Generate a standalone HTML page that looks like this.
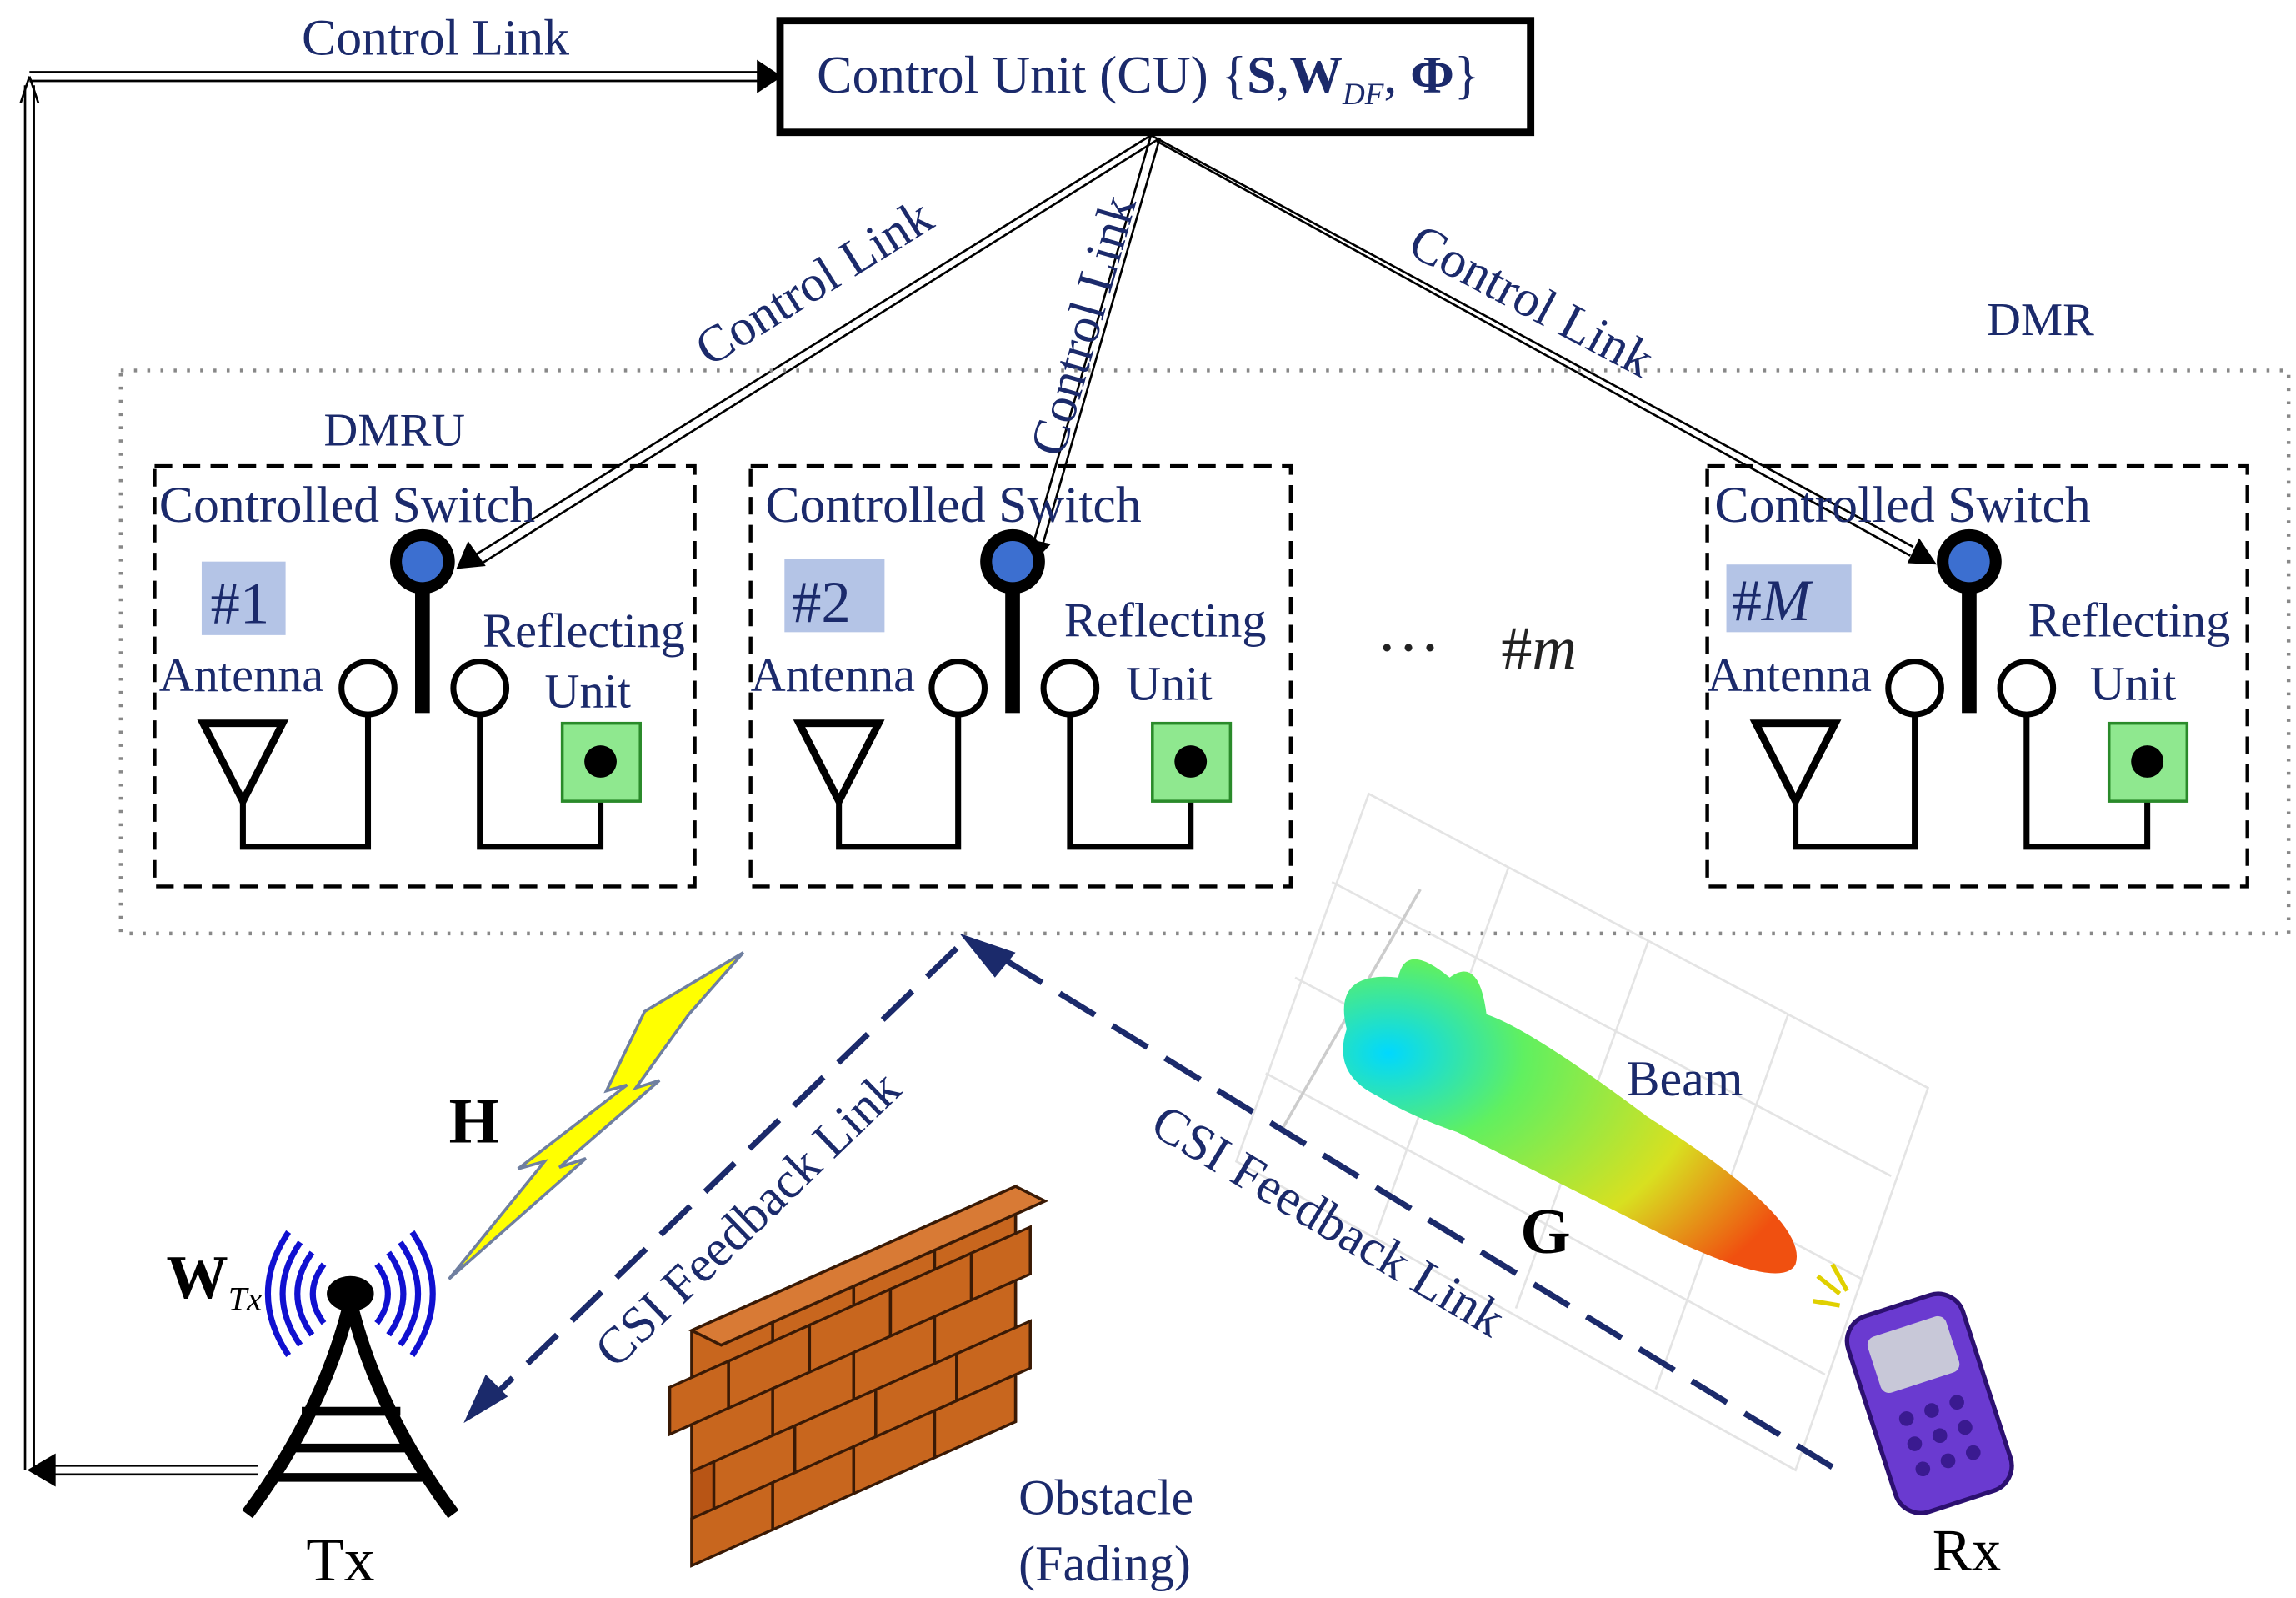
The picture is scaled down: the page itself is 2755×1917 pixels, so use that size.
<!DOCTYPE html>
<html><head><meta charset="utf-8"><style>
html,body{margin:0;padding:0;background:#fff;}
svg{display:block;}
text{font-family:"Liberation Serif",serif;fill:#1b2a6b;}
</style></head><body>
<svg width="2755" height="1917" viewBox="0 0 1560 1087" preserveAspectRatio="none" xmlns="http://www.w3.org/2000/svg">
<defs>
<radialGradient id="bg1" cx="0.1" cy="0.3" r="1">
<stop offset="0" stop-color="#00d8ff"/><stop offset="0.3" stop-color="#60f060"/><stop offset="0.7" stop-color="#d8e020"/><stop offset="1" stop-color="#f05010"/></radialGradient>
</defs>
<!-- control link left -->
<g stroke="#000" stroke-width="1.5" fill="none">
<path d="M17,1000 V58 M23,1000 V58"/>
<path d="M20,52 L14,70 M20,52 L26,70" />
<path d="M20,49 H515 M20,55 H515"/>
<path d="M515,42 L530,52 L515,62 z" fill="#000"/>
<path d="M35,997 H175 M35,1003 H175"/>
<path d="M20,1000 L37,990 L37,1010 z" fill="#000"/>
</g>
<text x="205" y="37" font-size="35">Control Link</text>
<!-- CU -->
<rect x="530" y="14" width="510" height="76" fill="#fff" stroke="#000" stroke-width="5"/>
<text x="555" y="63" font-size="36">Control Unit (CU) {<tspan font-weight="bold">S</tspan>,<tspan font-weight="bold">W</tspan><tspan font-size="21" font-style="italic" dy="8">DF</tspan><tspan dy="-8">, </tspan><tspan font-weight="bold">Φ</tspan>}</text>
<!-- control links from CU -->
<g stroke="#000" stroke-width="1.5" fill="none">
<path d="M782,92 L322,378 M788,94 L326,384"/>
<path d="M782,92 L702,370 M788,94 L708,372"/>
<path d="M782,92 L1300,372 M786,96 L1298,378"/>
</g>
<path d="M310,387 L318,368 L330,385 z" fill="#000"/>
<path d="M700,385 L696,366 L714,370 z" fill="#000"/>
<path d="M1316,384 L1296,383 L1304,366 z" fill="#000"/>
<text transform="translate(482,250) rotate(-32)" font-size="35">Control Link</text>
<text transform="translate(722,312) rotate(-74)" font-size="35">Control Link</text>
<text transform="translate(955,172) rotate(28)" font-size="35">Control Link</text>
<!-- DMR -->
<rect x="82" y="252" width="1473" height="383" fill="none" stroke="#888" stroke-width="2.5" stroke-dasharray="2,7"/>
<text x="1350" y="228" font-size="32">DMR</text>
<text x="220" y="303" font-size="32">DMRU</text>
<g>
<rect x="105" y="317" width="367" height="286" fill="none" stroke="#000" stroke-width="2.5" stroke-dasharray="12,7"/>
<text x="108" y="355" font-size="35">Controlled Switch</text>
<rect x="137" y="382" width="57" height="50" fill="#b4c4e6"/>
<text x="143" y="424" font-size="40">#1</text>
<text x="108" y="470" font-size="33">Antenna</text>
<text x="328" y="440" font-size="33">Reflecting</text>
<text x="370" y="481" font-size="33">Unit</text>
<rect x="282" y="380" width="10" height="105" fill="#000"/>
<circle cx="287" cy="382" r="18" fill="#3c6fd0" stroke="#000" stroke-width="8"/>
<circle cx="250" cy="468" r="18" fill="#fff" stroke="#000" stroke-width="4"/>
<circle cx="326" cy="468" r="18" fill="#fff" stroke="#000" stroke-width="4"/>
<path d="M138,492 L192,492 L165,545 z" fill="none" stroke="#000" stroke-width="5"/>
<path d="M165,545 V576 H250 V486 M326,486 V576 H408 V545" fill="none" stroke="#000" stroke-width="4"/>
<rect x="382" y="492" width="53" height="53" fill="#8fe88f" stroke="#2a8a2a" stroke-width="2"/>
<circle cx="408" cy="518" r="11" fill="#000"/>
</g>
<g transform="translate(405,0)">
<rect x="105" y="317" width="367" height="286" fill="none" stroke="#000" stroke-width="2.5" stroke-dasharray="12,7"/>
<text x="115" y="355" font-size="35">Controlled Switch</text>
<rect x="128" y="380" width="68" height="50" fill="#b4c4e6"/>
<text x="133" y="423" font-size="40">#2</text>
<text x="105" y="470" font-size="33">Antenna</text>
<text x="318" y="433" font-size="33">Reflecting</text>
<text x="360" y="476" font-size="33">Unit</text>
<rect x="278" y="380" width="10" height="105" fill="#000"/>
<circle cx="283" cy="382" r="18" fill="#3c6fd0" stroke="#000" stroke-width="8"/>
<circle cx="246" cy="468" r="18" fill="#fff" stroke="#000" stroke-width="4"/>
<circle cx="322" cy="468" r="18" fill="#fff" stroke="#000" stroke-width="4"/>
<path d="M138,492 L192,492 L165,545 z" fill="none" stroke="#000" stroke-width="5"/>
<path d="M165,545 V576 H246 V486 M322,486 V576 H404 V545" fill="none" stroke="#000" stroke-width="4"/>
<rect x="378" y="492" width="53" height="53" fill="#8fe88f" stroke="#2a8a2a" stroke-width="2"/>
<circle cx="404" cy="518" r="11" fill="#000"/>
</g>
<g transform="translate(1055,0)">
<rect x="105" y="317" width="367" height="286" fill="none" stroke="#000" stroke-width="2.5" stroke-dasharray="12,7"/>
<text x="110" y="355" font-size="35">Controlled Switch</text>
<rect x="118" y="384" width="85" height="46" fill="#b4c4e6"/>
<text x="122" y="422" font-size="40">#<tspan font-style="italic">M</tspan></text>
<text x="105" y="470" font-size="33">Antenna</text>
<text x="323" y="433" font-size="33">Reflecting</text>
<text x="365" y="476" font-size="33">Unit</text>
<rect x="278" y="380" width="10" height="105" fill="#000"/>
<circle cx="283" cy="382" r="18" fill="#3c6fd0" stroke="#000" stroke-width="8"/>
<circle cx="246" cy="468" r="18" fill="#fff" stroke="#000" stroke-width="4"/>
<circle cx="322" cy="468" r="18" fill="#fff" stroke="#000" stroke-width="4"/>
<path d="M138,492 L192,492 L165,545 z" fill="none" stroke="#000" stroke-width="5"/>
<path d="M165,545 V576 H246 V486 M322,486 V576 H404 V545" fill="none" stroke="#000" stroke-width="4"/>
<rect x="378" y="492" width="53" height="53" fill="#8fe88f" stroke="#2a8a2a" stroke-width="2"/>
<circle cx="404" cy="518" r="11" fill="#000"/>
</g>
<text x="935" y="455" font-size="44" fill="#222" style="fill:#222">···</text>
<text x="1020" y="455" font-size="42" style="fill:#222">#<tspan font-style="italic">m</tspan></text>
<!-- lightning -->
<path d="M505,648 L438,688 L412,742 L426,738 L352,795 L370,790 L305,870 L398,788 L380,794 L448,735 L432,740 L468,690 z" fill="#ffff00" stroke="#6f7fa0" stroke-width="2"/>
<text x="305" y="777" font-size="44" font-weight="bold" style="fill:#000">H</text>
<!-- beam grid -->
<g stroke="#e4e4e4" stroke-width="1.5" fill="none">
<path d="M930,540 L1310,740 L1220,1000 L840,790 z"/>
<path d="M1025,590 L935,840 M1120,640 L1030,890 M1215,690 L1125,945 M905,600 L1285,800 M880,665 L1265,870 M860,730 L1240,935"/>
</g>
<path d="M965,605 L870,770" stroke="#ccc" stroke-width="2"/>
<path d="M915,700 Q905,660 950,665 Q955,640 985,665 Q1005,650 1010,690 Q1040,700 1120,760 Q1230,830 1220,860 Q1210,880 1120,835 Q1020,785 990,770 Q960,760 935,745 Q905,730 915,700 z" fill="url(#bg1)"/>
<text x="1105" y="745" font-size="34">Beam</text>
<text x="1033" y="852" font-size="44" font-weight="bold" style="fill:#000">G</text>
<!-- CSI feedback -->
<g stroke="#1b2a6b" stroke-width="4" fill="none" stroke-dasharray="28,14">
<path d="M1245,998 L665,642"/>
<path d="M650,645 L330,955"/>
</g>
<path d="M652,635 L690,648 L676,665 z" fill="#1b2a6b"/>
<path d="M315,968 L330,935 L345,950 z" fill="#1b2a6b"/>
<text transform="translate(418,932) rotate(-44)" font-size="35">CSI Feedback Link</text>
<text transform="translate(780,770) rotate(31)" font-size="35">CSI Feedback Link</text>
<!-- brick wall -->
<g transform="translate(470,905) skewY(-24)" stroke="#3a1a05" stroke-width="2">
<rect x="0" y="0" width="220" height="160" fill="#b85515"/>
<g fill="#c8661e">
<rect x="0" y="0" width="55" height="32"/><rect x="55" y="0" width="55" height="32"/><rect x="110" y="0" width="55" height="32"/><rect x="165" y="0" width="55" height="32"/>
<rect x="-15" y="32" width="40" height="32"/><rect x="25" y="32" width="55" height="32"/><rect x="80" y="32" width="55" height="32"/><rect x="135" y="32" width="55" height="32"/><rect x="190" y="32" width="40" height="32"/>
<rect x="0" y="64" width="55" height="32"/><rect x="55" y="64" width="55" height="32"/><rect x="110" y="64" width="55" height="32"/><rect x="165" y="64" width="55" height="32"/>
<rect x="15" y="96" width="55" height="32"/><rect x="70" y="96" width="55" height="32"/><rect x="125" y="96" width="55" height="32"/><rect x="180" y="96" width="50" height="32"/>
<rect x="0" y="128" width="55" height="32"/><rect x="55" y="128" width="55" height="32"/><rect x="110" y="128" width="55" height="32"/><rect x="165" y="128" width="55" height="32"/>
</g>
</g>
<path d="M470,905 L690,807 L710,817 L490,915 z" fill="#d87a35" stroke="#3a1a05" stroke-width="2"/>
<text x="692" y="1030" font-size="34">Obstacle</text>
<text x="692" y="1075" font-size="34">(Fading)</text>
<!-- phone -->
<g transform="rotate(-18 1310 955)">
<rect x="1270" y="885" width="82" height="140" rx="18" fill="#6a3ad0" stroke="#2c1070" stroke-width="3"/>
<rect x="1283" y="900" width="56" height="40" rx="6" fill="#c8c8d8"/>
<g fill="#3a1a90"><circle cx="1293" cy="960" r="5"/><circle cx="1311" cy="960" r="5"/><circle cx="1329" cy="960" r="5"/><circle cx="1293" cy="978" r="5"/><circle cx="1311" cy="978" r="5"/><circle cx="1329" cy="978" r="5"/><circle cx="1293" cy="996" r="5"/><circle cx="1311" cy="996" r="5"/><circle cx="1329" cy="996" r="5"/></g>
</g>
<path d="M1235,868 L1250,880 M1245,860 L1255,878 M1232,885 L1250,888" stroke="#e0d000" stroke-width="3"/>
<text x="1313" y="1068" font-size="40" style="fill:#000">Rx</text>
<!-- tower -->
<g stroke="#000" fill="none" stroke-width="9">
<path d="M238,885 Q220,960 168,1030 M238,885 Q256,960 308,1030"/>
<path d="M205,960 H272 M195,985 H282 M185,1005 H292" stroke-width="6"/>
</g>
<ellipse cx="238" cy="880" rx="16" ry="12" fill="#000"/>
<g stroke="#1010d0" stroke-width="4" fill="none">
<path d="M220,860 Q205,880 220,900 M212,852 Q192,880 212,908 M204,845 Q180,880 204,915 M196,838 Q168,880 196,922"/>
<path d="M256,860 Q271,880 256,900 M264,852 Q284,880 264,908 M272,845 Q296,880 272,915 M280,838 Q308,880 280,922"/>
</g>
<text x="113" y="883" font-size="42" font-weight="bold" style="fill:#000">W<tspan font-size="23" font-style="italic" font-weight="normal" dy="8">Tx</tspan></text>
<text x="208" y="1075" font-size="42" style="fill:#000">Tx</text>
</svg>
</body></html>
